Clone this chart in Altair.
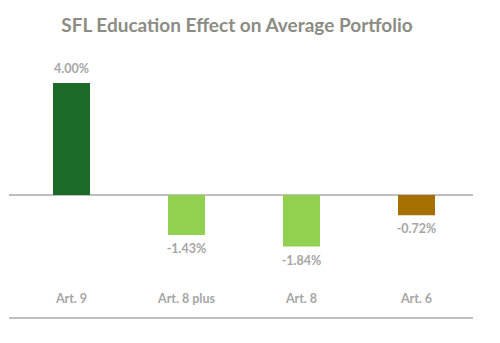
import altair as alt
import pandas as pd

categories = ["Art. 9", "Art. 8 plus", "Art. 8", "Art. 6"]
values = [4.00, -1.43, -1.84, -0.72]
colors = ["#1b6a27", "#92d050", "#92d050", "#a67000"]
title_text = "SFL Education Effect on Average Portfolio"

df = pd.DataFrame({"cat": categories, "val": values, "col": colors})
df["lab"] = [f"{v:.2f}%" for v in values]

FONT = "Lato"
x = alt.X("cat:N", sort=categories, axis=None, scale=alt.Scale(paddingInner=0.5, paddingOuter=0.25))
y = alt.Y("val:Q", axis=None, scale=alt.Scale(domain=[-4.393, 5.0], nice=False, zero=False))

base = alt.Chart(df)

bars = base.mark_bar(size=37).encode(x=x, y=y, y2=alt.datum(0), color=alt.Color("col:N", scale=None))

pos_lab = base.transform_filter("datum.val >= 0").mark_text(
    baseline="bottom", dy=-7, font=FONT, fontSize=12.5, fontWeight="bold", color="#a6a6a6"
).encode(x=x, y=y, text="lab:N")

neg_lab = base.transform_filter("datum.val < 0").mark_text(
    baseline="top", dy=8, font=FONT, fontSize=12.5, fontWeight="bold", color="#a6a6a6"
).encode(x=x, y=y, text="lab:N")

cat_lab = base.mark_text(
    baseline="middle", font=FONT, fontSize=12.5, fontWeight="bold", color="#a6a6a6"
).encode(x=x, y=alt.value(244), text="cat:N")

title = alt.Chart(pd.DataFrame({"t": [title_text]})).mark_text(
    baseline="alphabetic", align="center", font=FONT, fontSize=19, fontWeight="bold", color="#8c8c84"
).encode(x=alt.value(223), y=alt.value(-23), text="t:N")

zero_rule = alt.Chart(pd.DataFrame({"z": [0]})).mark_rule(color="#bfbfbf", strokeWidth=2).encode(
    y=alt.Y("z:Q", scale=alt.Scale(domain=[-4.393, 5.0], nice=False, zero=False), axis=None),
    x=alt.value(-5), x2=alt.value(459)
)

bottom_rule = alt.Chart(pd.DataFrame({"z": [0]})).mark_rule(color="#bfbfbf", strokeWidth=2).encode(
    y=alt.value(263), x=alt.value(-5), x2=alt.value(459)
)

chart = alt.layer(zero_rule, bottom_rule, bars, pos_lab, neg_lab, cat_lab, title).properties(
    width=460, height=263,
    autosize=alt.AutoSizeParams(type="none"),
    padding={"left": 14, "top": 55, "right": 26, "bottom": 25},
).configure_view(stroke=None)

chart.save("out.html", embed_options={"renderer": "svg", "actions": False})
